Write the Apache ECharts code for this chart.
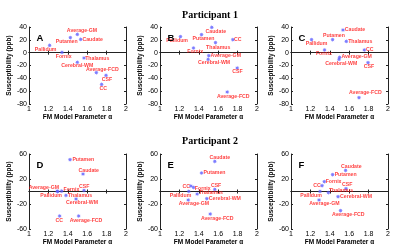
<!DOCTYPE html>
<html>
<head>
<meta charset="utf-8">
<script src="https://cdn.jsdelivr.net/npm/echarts@6/dist/echarts.min.js"></script>
<style>html,body{margin:0;padding:0;background:#fff}#c{width:400px;height:251px}</style>
</head>
<body>
<div id="c"></div>
<script>
// ---- data ----
var regions = ['Average-GM','Putamen','Caudate','Pallidum','Fornix','Thalamus','Cerebral-WM','Average-FCD','CSF','CC'];
var panelLetters = ['A','B','C','D','E','F'];
var rowTitles = ['Participant 1','Participant 2'];
var xTicks = [1, 1.2, 1.4, 1.6, 1.8, 2];
var yTicksRow1 = [-80, -60, -40, -20, 0, 20, 40];
var yTicksRow2 = [-60, -20, 20, 60];

var alphaA = [1.498, 1.426, 1.533, 1.213, 1.340, 1.567, 1.498, 1.694, 1.794, 1.749];
var suscA  = [28.6, 23.4, 20.8, 11.4, 0.5, -8.3, -15.0, -31.2, -35.3, -49.3];
var alphaB = [1.503, 1.428, 1.534, 1.211, 1.345, 1.572, 1.496, 1.693, 1.796, 1.751];
var suscB  = [-4.7, 28.0, 39.5, 24.9, 7.3, 15.6, -10.4, -61.3, -23.9, 20.3];
var alphaC = [1.501, 1.429, 1.536, 1.212, 1.346, 1.570, 1.495, 1.701, 1.794, 1.756];
var suscC  = [-7.2, 20.3, 35.3, 20.3, 4.2, 17.7, -10.4, -70.1, -15.6, 4.2];
var alphaD = [1.290, 1.423, 1.557, 1.297, 1.337, 1.381, 1.485, 1.512, 1.567, 1.316];
var suscD  = [0.6, 50.9, 28.0, -0.3, 0.7, -6.2, -12.0, -39.2, 1.8, -39.2];
var alphaE = [1.291, 1.428, 1.565, 1.297, 1.345, 1.383, 1.483, 1.518, 1.565, 1.318];
var suscE  = [-13.6, 29.6, 48.2, 0.2, 6.6, -4.0, -11.5, -36.0, 3.4, 8.8];
var alphaF = [1.289, 1.429, 1.563, 1.299, 1.343, 1.385, 1.485, 1.511, 1.567, 1.320];
var suscF  = [-13.6, 26.9, 33.8, 0.2, 15.7, -1.9, -8.3, -30.7, 4.5, 9.3];

// ---- layout / styling (label offsets in px, same order as regions) ----
var labelOffsets = [
  [[4.7,-3.3],[-3.7,3.7],[12,0.3],[-4,4],[1.7,4],[13.3,0.3],[0,3],[6,-3],[1,4.3],[1.7,4]],
  [[17,0.3],[2,4],[4,4.3],[-3.3,4],[1.7,4],[2.7,4.7],[6,3.7],[6,4.3],[0.3,3.7],[5,0.3]],
  [[17,-0.3],[1.3,-4],[12,0],[5,3.7],[-0.7,3.7],[14,0],[2.3,4],[6.3,-4.7],[1,3.7],[5.3,0]],
  [[-13.3,-3.3],[13.3,0],[5.7,-3.7],[-6.7,3.7],[9.7,-1.3],[14,-0.3],[6,4],[7.3,4.7],[0.3,-4],[-0.3,4.7]],
  [[5.7,4],[13,0],[5,-3.7],[-8.3,3.7],[9.3,0.7],[13.7,-1.7],[18,0],[7,4.7],[1.3,-3.7],[-4.7,0.3]],
  [[5.3,3.7],[13,0.3],[5.7,-3.7],[-9,3.7],[9.3,0],[12.7,-1.7],[18,0],[7.7,4],[1.3,-3.7],[-5,0.3]]
];
var panels = [[alphaA,suscA],[alphaB,suscB],[alphaC,suscC],[alphaD,suscD],[alphaE,suscE],[alphaF,suscF]];
var lefts = [29, 160, 291];
var tops = [27, 154];
var heights = [77, 75];
var W = 97;
var SYM = 4.5;

var SANS = 'Liberation Sans';
var starPoly = 'path://M0,-10L2,-4.8L7.1,-7.1L4.8,-2L10,0L4.8,2L7.1,7.1L2,4.8L0,10L-2,4.8L-7.1,7.1L-4.8,2L-10,0L-4.8,-2L-7.1,-7.1L-2,-4.8Z';

var grid = [], xAxis = [], yAxis = [], series = [], title = [];
rowTitles.forEach(function(t, r){
  title.push({text: t, left: 205, top: r === 0 ? 5 : 131, textAlign: 'center',
    textStyle: {fontFamily: 'Liberation Serif', fontWeight: 'bold', fontSize: 10, color: '#000'}});
});
panels.forEach(function(p, i){
  var r = Math.floor(i/3), c = i % 3;
  var yt = r === 0 ? yTicksRow1 : yTicksRow2;
  var ymin = yt[0], ymax = yt[yt.length-1], yint = yt[1]-yt[0];
  grid.push({left: lefts[c], top: tops[r], width: W, height: heights[r]});
  var line = {show: true, lineStyle: {color: '#222', width: 1}};
  var tick = {show: true, inside: true, length: 2, lineStyle: {color: '#222'}};
  xAxis.push({gridIndex: i, type: 'value', min: xTicks[0], max: xTicks[xTicks.length-1], interval: 0.2,
    position: 'bottom', axisLine: line, axisTick: tick, splitLine: {show: false},
    axisLabel: {fontSize: 7, color: '#000', margin: 1.5, fontFamily: SANS,
      formatter: function(v){ return String(Math.round(v*10)/10); }},
    name: 'FM Model Parameter \u03b1', nameLocation: 'middle', nameGap: 7.5,
    nameTextStyle: {fontSize: 6.5, fontWeight: 'bold', color: '#000', fontFamily: SANS}});
  xAxis.push({gridIndex: i, type: 'value', min: xTicks[0], max: xTicks[xTicks.length-1], interval: 0.2,
    position: 'top', axisLine: line, axisTick: tick, splitLine: {show: false}, axisLabel: {show: false}});
  yAxis.push({gridIndex: i, type: 'value', min: ymin, max: ymax, interval: yint,
    position: 'left', axisLine: line, axisTick: tick, splitLine: {show: false},
    axisLabel: {fontSize: 7, color: '#000', margin: 2, fontFamily: SANS},
    name: 'Susceptibility (ppb)', nameLocation: 'middle', nameGap: 12.5, nameRotate: 90,
    nameTextStyle: {fontSize: 6.5, fontWeight: 'bold', color: '#000', fontFamily: SANS}});
  yAxis.push({gridIndex: i, type: 'value', min: ymin, max: ymax, interval: yint,
    position: 'right', axisLine: line, axisTick: tick, splitLine: {show: false}, axisLabel: {show: false}});
  var offs = labelOffsets[i];
  var data = regions.map(function(name, k){
    return {name: name, value: [p[0][k], p[1][k]],
      label: {position: [SYM/2 + offs[k][0], SYM/2 + offs[k][1]], align: 'center', verticalAlign: 'middle'}};
  });
  series.push({type: 'scatter', xAxisIndex: 2*i, yAxisIndex: 2*i, data: data,
    symbol: starPoly, symbolSize: SYM, itemStyle: {color: '#5a5aff'},
    silent: true,
    label: {show: true, formatter: '{b}', fontSize: 5.2, fontWeight: 'bold',
      color: '#ff1010', fontFamily: SANS, align: 'center', verticalAlign: 'middle'},
    labelLayout: {hideOverlap: false}});
  title.push({text: panelLetters[i], left: lefts[c] + 2.5, top: tops[r] + 1,
    textStyle: {fontFamily: SANS, fontWeight: 'bold', fontSize: 9.5, color: '#000'}});
});

var chart = echarts.init(document.getElementById('c'), null, {renderer: 'canvas'});
chart.setOption({animation: false, backgroundColor: '#fff', title: title, grid: grid,
  xAxis: xAxis, yAxis: yAxis, series: series});
</script>
</body>
</html>
